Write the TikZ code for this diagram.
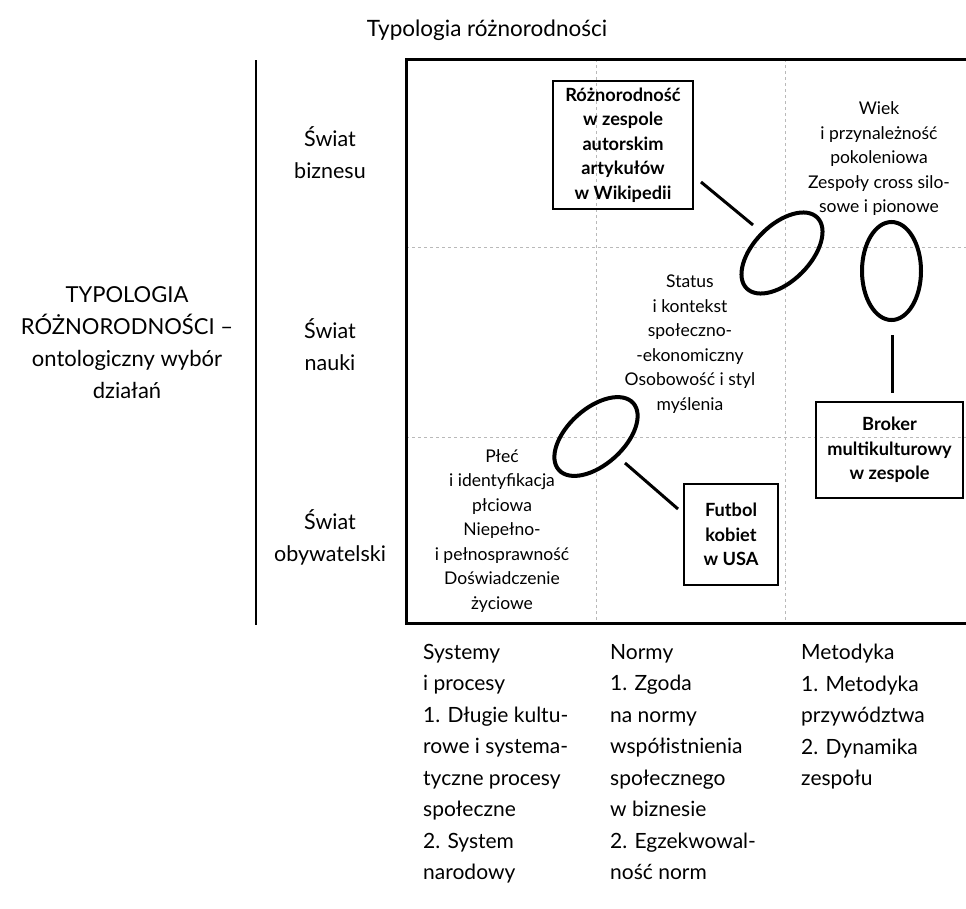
\documentclass[tikz,border=0pt]{standalone}
\usepackage{fontspec}
\setmainfont{Lato}
\usetikzlibrary{shapes.geometric}
\begin{document}
\begin{tikzpicture}[x=1pt,y=-1pt,
  lbl/.style={align=center, inner sep=0pt, font=\fontsize{22}{32}\selectfont},
  rowlbl/.style={align=center, inner sep=0pt, font=\fontsize{21.5}{32}\selectfont},
  cell/.style={align=center, inner sep=0pt, font=\fontsize{17.5}{24.5}\selectfont},
  boxed/.style={draw, line width=1.5pt, align=center, inner sep=0pt, font=\bfseries\fontsize{18.2}{24.5}\selectfont},
  col/.style={align=left, anchor=north west, inner sep=0pt, font=\fontsize{21}{31.5}\selectfont},
  gridline/.style={gray!55, dash pattern=on 3pt off 3pt, line width=0.8pt},
  oval/.style={draw, ellipse, line width=4pt, inner sep=0pt},
  link/.style={line width=3pt}
]
\useasboundingbox (0,0) rectangle (966,908);
% grid
\draw[gridline] (406,247) -- (966,247);
\draw[gridline] (406,437) -- (966,437);
\draw[gridline] (596,59) -- (596,623);
\draw[gridline] (785,59) -- (785,623);
% frame
\draw[line width=3pt] (966,59) -- (406,59) -- (406,623) -- (966,623);
% separator
\draw[line width=1.2pt] (256,60) -- (256,625);
% titles
\node[lbl, font=\fontsize{22.5}{32}\selectfont] (title) at (487,30) {Typologia różnorodności};
\node[lbl] (side) at (127,343) {TYPOLOGIA\\RÓŻNORODNOŚCI –\\ontologiczny wybór\\działań};
\node[rowlbl] (r1) at (330,153) {Świat\\biznesu};
\node[rowlbl] (r2) at (330,345) {Świat\\nauki};
\node[rowlbl] (r3) at (330,537) {Świat\\obywatelski};
% cells
\node[cell] (c1) at (879,159) {Wiek\\i przynależność\\pokoleniowa\\Zespoły cross silo-\\sowe i pionowe};
\node[cell] (c2) at (690,344) {Status\\i kontekst\\społeczno-\\-ekonomiczny\\Osobowość i styl\\myślenia};
\node[cell] (c3) at (502,531) {Płeć\\i identyfikacja\\płciowa\\Niepełno-\\i pełnosprawność\\Doświadczenie\\życiowe};
% boxes
\node[boxed, minimum width=140pt, minimum height=128pt] (wiki) at (623,145) {Różnorodność\\w zespole\\autorskim\\artykułów\\w Wikipedii};
\node[boxed, minimum width=94pt, minimum height=101pt] (futbol) at (731,534.5) {Futbol\\kobiet\\w USA};
\node[boxed, minimum width=147pt, minimum height=96pt] (broker) at (889.5,450) {Broker\\multikulturowy\\w zespole};
% ovals
\node[oval, minimum width=100pt, minimum height=56pt, rotate=45] (e1) at (782,253) {};
\node[oval, minimum width=59pt, minimum height=98pt] (e2) at (891.5,271) {};
\node[oval, minimum width=100pt, minimum height=56pt, rotate=42] (e3) at (596,436.5) {};
% connectors
\coordinate (l1a) at (701,182);
\coordinate (l1b) at (753,225);
\coordinate (l2a) at (892,335);
\coordinate (l2b) at (892,393);
\coordinate (l3a) at (625,463);
\coordinate (l3b) at (678,509);
\draw[link] (l1a) -- (l1b);
\draw[link] (l2a) -- (l2b);
\draw[link] (l3a) -- (l3b);
% bottom columns
\node[col] (b1) at (423,644) {Systemy\\i procesy\\1. Długie kultu-\\rowe i systema-\\tyczne procesy\\społeczne\\2. System\\narodowy};
\node[col] (b2) at (610,644) {Normy\\1. Zgoda\\na normy\\współistnienia\\społecznego\\w biznesie\\2. Egzekwowal-\\ność norm};
\node[col] (b3) at (801,644) {Metodyka\\1. Metodyka\\przywództwa\\2. Dynamika\\zespołu};
\end{tikzpicture}
\end{document}
